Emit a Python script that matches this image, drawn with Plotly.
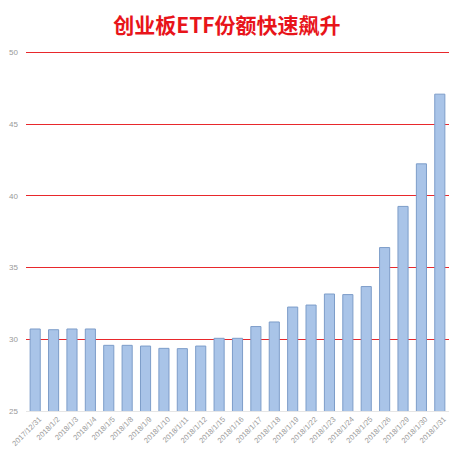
import plotly.graph_objects as go

# trading days
dates = ["2017/12/31", "2018/1/2", "2018/1/3", "2018/1/4", "2018/1/5", "2018/1/8",
         "2018/1/9", "2018/1/10", "2018/1/11", "2018/1/12", "2018/1/15", "2018/1/16",
         "2018/1/17", "2018/1/18", "2018/1/19", "2018/1/22", "2018/1/23", "2018/1/24",
         "2018/1/25", "2018/1/26", "2018/1/29", "2018/1/30", "2018/1/31"]

# ETF share
shares = [30.72, 30.67, 30.72, 30.72, 29.58, 29.58, 29.53, 29.37, 29.35, 29.53, 30.07, 30.07,
          30.89, 31.21, 32.25, 32.39, 33.16, 33.12, 33.68, 36.4, 39.27, 42.24, 47.1]

y_ticks = [25, 30, 35, 40, 45, 50]

fig = go.Figure(data=[
    go.Bar(
        x=dates,
        y=shares,
        marker=dict(color="#a9c4e8", line=dict(color="#7d9dc9", width=1)),
    )
])

# page body has an 8px margin, so the figure is sized to the visible part
fig.update_layout(
    width=459,
    height=449,
    paper_bgcolor="white",
    plot_bgcolor="white",
    showlegend=False,
    bargap=0.45,
    margin=dict(l=18, r=18, t=41, b=46),
    title=dict(
        text="<b>创业板ETF份额快速飙升</b>",
        x=0.477,
        xanchor="center",
        y=0.96,
        yanchor="middle",
        font=dict(family="Noto Sans CJK SC", size=21, color="#e8141a"),
    ),
    xaxis=dict(
        type="category",
        tickangle=-45,
        tickfont=dict(family="Liberation Sans", size=7.5, color="#999999"),
        ticklabelshift=4,
        showgrid=False,
        showline=True,
        linecolor="#e6e6e6",
        ticks="",
        automargin=False,
    ),
    yaxis=dict(
        range=[25, 50.25],
        tickvals=y_ticks,
        tickfont=dict(family="Liberation Sans", size=8, color="#999999"),
        showgrid=True,
        gridcolor="#e8282c",
        gridwidth=1.3,
        zeroline=False,
        showline=False,
        ticklabelstandoff=7,
        automargin=False,
    ),
)

fig.write_html("out.html")
